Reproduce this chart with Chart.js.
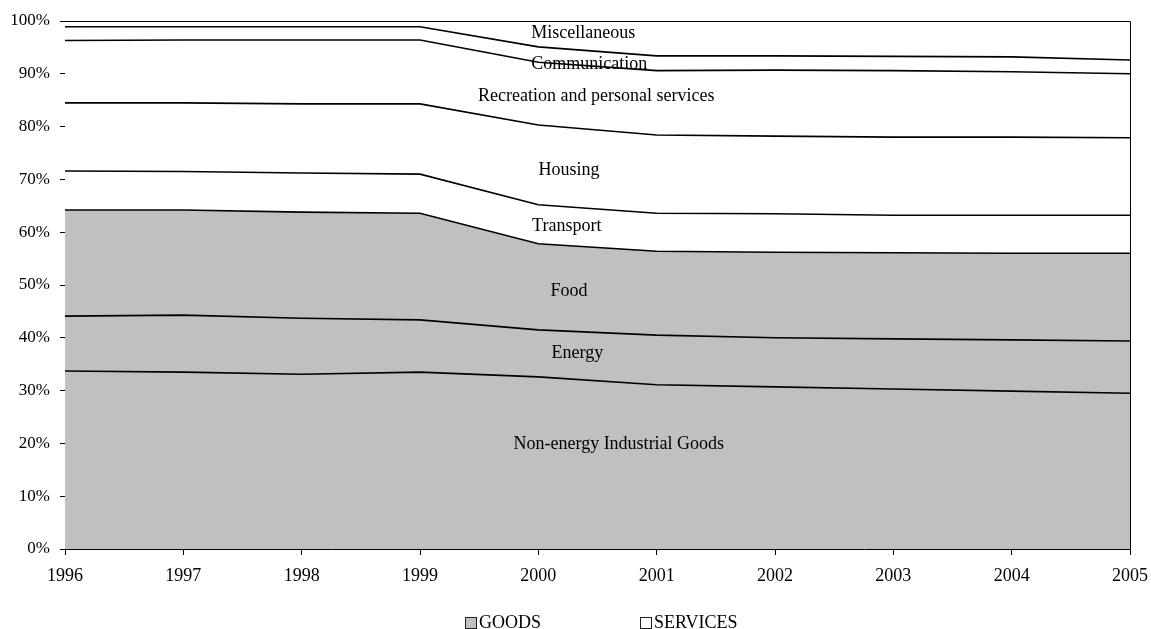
<!DOCTYPE html>
<html>
<head>
<meta charset="utf-8">
<script src="https://cdn.jsdelivr.net/npm/chart.js@4/dist/chart.umd.min.js"></script>
<style>
  html, body { margin: 0; padding: 0; background: #fff; }
  #wrap { width: 1151px; height: 629px; position: relative; }
</style>
</head>
<body>
<div id="wrap"><canvas id="cpiChart"></canvas></div>
<script>
const years = ["1996", "1997", "1998", "1999", "2000", "2001", "2002", "2003", "2004", "2005"];

// shares of the basket, in percent (stacked bottom to top)
const nonEnergyGoods = [33.7, 33.5, 33.1, 33.5, 32.6, 31.1, 30.7, 30.3, 29.9, 29.5];
const energy = [10.4, 10.8, 10.6, 9.9, 8.9, 9.4, 9.3, 9.5, 9.7, 9.9];
const food = [20.1, 19.9, 20.1, 20.2, 16.3, 15.9, 16.2, 16.3, 16.4, 16.6];
const transport = [7.4, 7.3, 7.4, 7.4, 7.4, 7.2, 7.3, 7.1, 7.2, 7.2];
const housing = [12.9, 13.0, 13.1, 13.3, 15.1, 14.8, 14.7, 14.8, 14.8, 14.7];
const recreation = [11.8, 11.9, 12.1, 12.1, 11.9, 12.2, 12.5, 12.6, 12.4, 12.1];
const communication = [2.6, 2.5, 2.5, 2.5, 2.9, 2.8, 2.7, 2.7, 2.8, 2.6];
const miscellaneous = [1.1, 1.1, 1.1, 1.1, 4.9, 6.6, 6.6, 6.7, 6.8, 7.4];

const yTicks = [0, 10, 20, 30, 40, 50, 60, 70, 80, 90, 100];

const GOODS_FILL = "#c0c0c0";
const SERVICES_FILL = "#ffffff";
const font = "'Liberation Serif', 'Times New Roman', serif";

let series = [
  { label: "Non-energy Industrial Goods", data: nonEnergyGoods, goods: true, at: [4.68, 19.8] },
  { label: "Energy", data: energy, goods: true, at: [4.33, 37.1] },
  { label: "Food", data: food, goods: true, at: [4.26, 48.8] },
  { label: "Transport", data: transport, goods: false, at: [4.24, 61.1] },
  { label: "Housing", data: housing, goods: false, at: [4.26, 71.8] },
  { label: "Recreation and personal services", data: recreation, goods: false, at: [4.49, 85.8] },
  { label: "Communication", data: communication, goods: false, at: [4.43, 91.8] },
  { label: "Miscellaneous", data: miscellaneous, goods: false, at: [4.38, 97.6] },
];

// in-plot area labels, placed in data space
let areaLabels = {
  id: "areaLabels",
  afterDatasetsDraw(chart) {
    const ctx = chart.ctx;
    const x = chart.scales.x;
    const y = chart.scales.y;
    ctx.save();
    ctx.font = "18px " + font;
    ctx.fillStyle = "#000";
    ctx.textAlign = "center";
    ctx.textBaseline = "middle";
    series.forEach((s) => {
      ctx.fillText(s.label, x.getPixelForValue(s.at[0]), y.getPixelForValue(s.at[1]));
    });
    ctx.restore();
  },
};

// frame round the plot + two-item legend
let frameAndLegend = {
  id: "frameAndLegend",
  afterDraw(chart) {
    const ctx = chart.ctx;
    const a = chart.chartArea;
    ctx.save();
    ctx.strokeStyle = "#000";
    ctx.lineWidth = 1;
    ctx.beginPath();
    ctx.moveTo(a.left, a.top + 0.5);
    ctx.lineTo(a.right + 0.5, a.top + 0.5);
    ctx.lineTo(a.right + 0.5, a.bottom);
    ctx.stroke();

    const items = [
      { text: "GOODS", fill: GOODS_FILL, x: 465 },
      { text: "SERVICES", fill: SERVICES_FILL, x: 640 },
    ];
    ctx.font = "18px " + font;
    ctx.textBaseline = "middle";
    ctx.textAlign = "left";
    items.forEach((it) => {
      ctx.fillStyle = it.fill;
      ctx.fillRect(it.x, 617, 11, 11);
      ctx.strokeStyle = "#222";
      ctx.strokeRect(it.x + 0.5, 617.5, 11, 11);
      ctx.fillStyle = "#000";
      ctx.fillText(it.text, it.x + 14, 623);
    });
    ctx.restore();
  },
};

new Chart("cpiChart", {
  type: "line",
  data: {
    labels: years,
    datasets: series.map((s, i) => ({
      label: s.label,
      data: s.data,
      fill: i === 0 ? "origin" : "-1",
      backgroundColor: s.goods ? GOODS_FILL : SERVICES_FILL,
      borderColor: "#000",
      borderWidth: 1.6,
      tension: 0,
      pointRadius: 0,
    })),
  },
  options: {
    responsive: true,
    maintainAspectRatio: false,
    animation: false,
    layout: { padding: { top: 21, right: 21, left: 0, bottom: 0 } },
    plugins: {
      legend: { display: false },
      tooltip: { enabled: false },
    },
    scales: {
      x: {
        offset: false,
        grid: { drawOnChartArea: false, drawTicks: true, tickLength: 6, color: "#000" },
        border: { display: true, color: "#000", width: 1 },
        ticks: { color: "#000", font: { family: font, size: 18 }, padding: 10, maxRotation: 0 },
        afterFit: (s) => {
          s.height = 80;
          s.paddingLeft = 0;
          s.paddingRight = 0;
        },
      },
      y: {
        stacked: true,
        min: 0,
        max: 100,
        afterBuildTicks: (s) => { s.ticks = yTicks.map((v) => ({ value: v })); },
        grid: { drawOnChartArea: false, drawTicks: true, tickLength: 5, color: "#000" },
        border: { display: true, color: "#000", width: 1 },
        ticks: {
          color: "#000",
          font: { family: font, size: 17 },
          padding: 10,
          callback: (v) => v + "%",
        },
        afterFit: (s) => {
          s.width = 65;
          s.paddingTop = 0;
          s.paddingBottom = 0;
        },
      },
    },
  },
  plugins: [areaLabels, frameAndLegend],
});
</script>
</body>
</html>
